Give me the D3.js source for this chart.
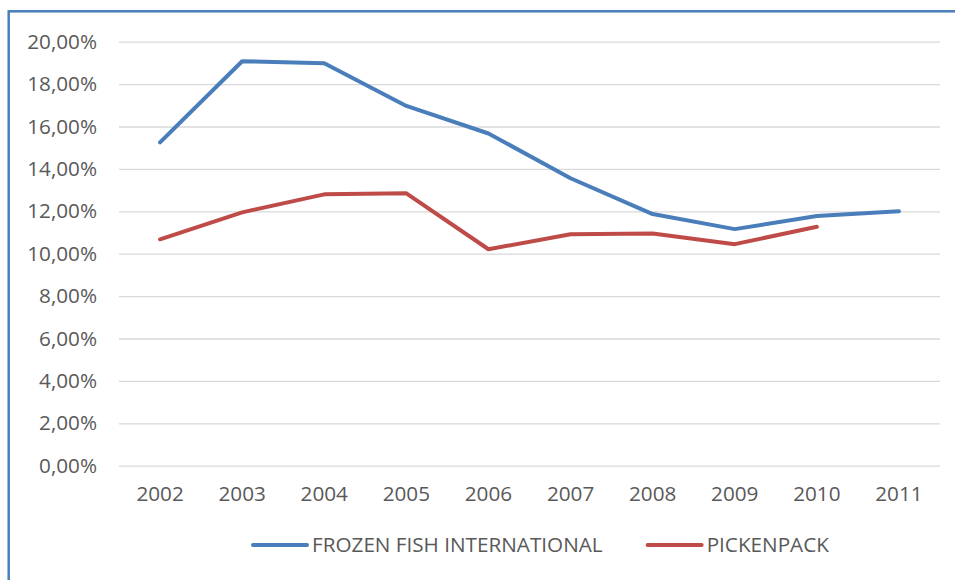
<!DOCTYPE html>
<html>
<head>
<meta charset="utf-8">
<script src="https://cdn.jsdelivr.net/npm/d3@7"></script>
<style>
  body { margin: 0; background: #fff; }
  svg text { font-family: "Open Sans", sans-serif; fill: #595959; }
</style>
</head>
<body>
<div id="chart"></div>
<script>
  // data
  const years = ["2002", "2003", "2004", "2005", "2006", "2007", "2008", "2009", "2010", "2011"]
  const frozenFish = [0.1525, 0.1908, 0.1898, 0.1697, 0.1567, 0.1356, 0.1187, 0.1116, 0.1178, 0.1200]
  const pickenpack = [0.1068, 0.1195, 0.1280, 0.1285, 0.1021, 0.1092, 0.1095, 0.1045, 0.1127, null]
  const seriesNames = ["FROZEN FISH INTERNATIONAL", "PICKENPACK"]
  const yTicks = [0, 0.02, 0.04, 0.06, 0.08, 0.10, 0.12, 0.14, 0.16, 0.18, 0.20]

  const width = 955, height = 580
  const colors = ["#4a7ebb", "#be4b48"]
  const fs = 20.7

  let svg = d3.select("#chart").append("svg")
    .attr("width", width).attr("height", height)

  // frame (runs off right and bottom edge)
  svg.append("rect")
    .attr("x", 8.7).attr("y", 11.3)
    .attr("width", 980).attr("height", 620)
    .attr("fill", "none").attr("stroke", "#4a7ebb").attr("stroke-width", 2.5)

  const x = d3.scaleBand().domain(years).range([119, 940]).padding(0)
  const y = d3.scaleLinear().domain([0, 0.2]).range([465.7, 41.7])

  const fmt = v => d3.format(".2f")(v * 100).replace(".", ",") + "%"

  // y axis + grid
  let yAxis = svg.append("g")
    .attr("transform", "translate(119,0)")
    .call(d3.axisLeft(y).tickValues(yTicks).tickFormat(fmt).tickSize(-821).tickPadding(22))
  yAxis.select(".domain").remove()
  yAxis.selectAll("line").attr("stroke", "#d9d9d9").attr("stroke-width", 1.3)
  yAxis.selectAll("text").attr("font-size", fs).attr("fill", "#595959")

  // x axis
  let xAxis = svg.append("g")
    .attr("transform", "translate(0,465.7)")
    .call(d3.axisBottom(x).tickSize(0).tickPadding(21))
  xAxis.select(".domain").remove()
  xAxis.selectAll("text").attr("font-size", fs).attr("fill", "#595959")

  // lines
  const line = d3.line()
    .defined(d => d != null)
    .x((d, i) => x(years[i]) + x.bandwidth() / 2)
    .y(d => y(d))

  ;[frozenFish, pickenpack].forEach((s, k) => {
    svg.append("path")
      .datum(s)
      .attr("d", line)
      .attr("fill", "none")
      .attr("stroke", colors[k])
      .attr("stroke-width", 4)
      .attr("stroke-linejoin", "round")
      .attr("stroke-linecap", "round")
  })

  // legend
  let lg = svg.append("g").attr("transform", "translate(253,545)")
  let lx = 0
  seriesNames.forEach((name, k) => {
    lg.append("line")
      .attr("x1", lx).attr("x2", lx + 54).attr("y1", 0).attr("y2", 0)
      .attr("stroke", colors[k]).attr("stroke-width", 4).attr("stroke-linecap", "round")
    let t = lg.append("text")
      .attr("x", lx + 59).attr("y", 0).attr("dy", "0.35em")
      .attr("font-size", fs)
      .text(name)
    lx += 59 + t.node().getComputedTextLength() + 45
  })
</script>
</body>
</html>
